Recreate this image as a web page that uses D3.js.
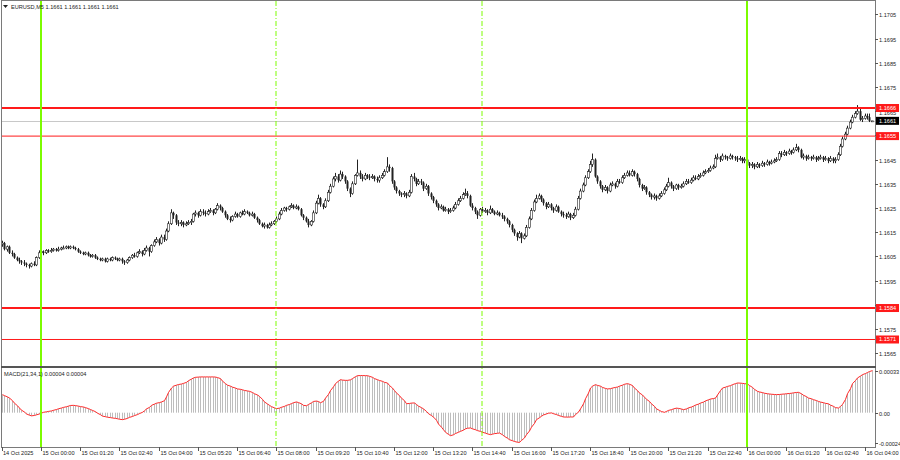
<!DOCTYPE html>
<html><head><meta charset="utf-8">
<script src="https://cdn.jsdelivr.net/npm/d3@7/dist/d3.min.js"></script>
<style>
html,body{margin:0;padding:0;background:#fff;}
svg{display:block;font-family:"Liberation Sans",Arial,sans-serif;}
</style></head><body>
<svg id="c" width="900" height="460"></svg>
<script>
// ---------------- DATA ----------------
const symbolTitle = "EURUSD,M5";
const headerValues = ["1.1661", "1.1661", "1.1661", "1.1661"];
const macdTitle = "MACD(21,34,1) 0.00004 0.00004";
const firstBarTime = "2025-10-14 22:40";
const barMinutes = 5;
const firstOpen = 1.16100;

const closes = [
1.16105,1.16080,1.16090,1.16065,1.16060,1.16045,1.16035,1.16030,1.16025,1.16020,
1.16015,1.16010,1.16020,1.16015,1.16045,1.16065,1.16070,1.16065,1.16075,1.16070,
1.16075,1.16080,1.16075,1.16080,1.16085,1.16085,1.16090,1.16085,1.16090,1.16085,
1.16080,1.16070,1.16065,1.16060,1.16065,1.16055,1.16050,1.16055,1.16045,1.16040,
1.16035,1.16040,1.16030,1.16040,1.16035,1.16045,1.16040,1.16035,1.16040,1.16030,
1.16025,1.16035,1.16045,1.16055,1.16050,1.16065,1.16070,1.16060,1.16075,1.16085,
1.16070,1.16095,1.16110,1.16120,1.16105,1.16130,1.16120,1.16155,1.16185,1.16230,
1.16220,1.16190,1.16185,1.16190,1.16180,1.16185,1.16190,1.16195,1.16225,1.16230,
1.16220,1.16235,1.16230,1.16225,1.16235,1.16240,1.16230,1.16245,1.16260,1.16250,
1.16235,1.16220,1.16205,1.16200,1.16215,1.16225,1.16215,1.16230,1.16225,1.16235,
1.16230,1.16220,1.16225,1.16210,1.16200,1.16185,1.16175,1.16180,1.16170,1.16180,
1.16185,1.16195,1.16205,1.16225,1.16240,1.16250,1.16245,1.16255,1.16260,1.16250,
1.16255,1.16245,1.16220,1.16210,1.16195,1.16180,1.16195,1.16230,1.16270,1.16290,
1.16265,1.16255,1.16280,1.16315,1.16340,1.16370,1.16380,1.16365,1.16390,1.16380,
1.16360,1.16330,1.16310,1.16350,1.16385,1.16395,1.16380,1.16370,1.16385,1.16380,
1.16375,1.16380,1.16370,1.16365,1.16375,1.16385,1.16400,1.16420,1.16415,1.16360,
1.16335,1.16320,1.16310,1.16305,1.16310,1.16300,1.16315,1.16380,1.16370,1.16350,
1.16360,1.16355,1.16330,1.16340,1.16310,1.16295,1.16280,1.16265,1.16250,1.16255,
1.16240,1.16245,1.16235,1.16240,1.16250,1.16265,1.16280,1.16290,1.16305,1.16310,
1.16300,1.16260,1.16250,1.16235,1.16220,1.16245,1.16235,1.16240,1.16230,1.16245,
1.16235,1.16225,1.16230,1.16220,1.16215,1.16205,1.16195,1.16180,1.16160,1.16145,
1.16130,1.16145,1.16125,1.16135,1.16170,1.16205,1.16240,1.16275,1.16290,1.16300,
1.16285,1.16270,1.16255,1.16265,1.16250,1.16240,1.16255,1.16235,1.16225,1.16220,
1.16215,1.16225,1.16210,1.16220,1.16245,1.16290,1.16320,1.16345,1.16375,1.16400,
1.16430,1.16450,1.16380,1.16360,1.16340,1.16325,1.16335,1.16320,1.16345,1.16350,
1.16340,1.16360,1.16355,1.16375,1.16385,1.16395,1.16385,1.16400,1.16390,1.16370,
1.16345,1.16330,1.16335,1.16315,1.16305,1.16295,1.16300,1.16290,1.16300,1.16310,
1.16325,1.16340,1.16355,1.16340,1.16330,1.16345,1.16335,1.16340,1.16350,1.16360,
1.16355,1.16365,1.16375,1.16370,1.16380,1.16385,1.16395,1.16400,1.16405,1.16415,
1.16420,1.16455,1.16460,1.16450,1.16465,1.16460,1.16455,1.16465,1.16460,1.16455,
1.16450,1.16455,1.16445,1.16450,1.16435,1.16425,1.16430,1.16420,1.16430,1.16425,
1.16435,1.16430,1.16440,1.16435,1.16440,1.16445,1.16450,1.16475,1.16470,1.16480,
1.16475,1.16485,1.16480,1.16490,1.16500,1.16490,1.16460,1.16465,1.16455,1.16460,
1.16455,1.16460,1.16450,1.16455,1.16460,1.16450,1.16455,1.16445,1.16455,1.16445,
1.16450,1.16470,1.16505,1.16535,1.16555,1.16580,1.16605,1.16625,1.16640,1.16650,
1.16615,1.16620,1.16630,1.16625,1.16610,1.16610
];
const highs = [
1.16115,1.16110,1.16095,1.16095,1.16075,1.16065,1.16050,1.16045,1.16035,1.16035,
1.16025,1.16020,1.16025,1.16030,1.16050,1.16075,1.16085,1.16075,1.16080,1.16080,
1.16085,1.16085,1.16085,1.16090,1.16090,1.16095,1.16095,1.16095,1.16095,1.16095,
1.16090,1.16085,1.16075,1.16070,1.16070,1.16070,1.16060,1.16060,1.16060,1.16050,
1.16045,1.16045,1.16045,1.16045,1.16045,1.16050,1.16050,1.16045,1.16045,1.16045,
1.16035,1.16040,1.16050,1.16060,1.16065,1.16070,1.16080,1.16075,1.16085,1.16095,
1.16090,1.16100,1.16120,1.16130,1.16125,1.16140,1.16140,1.16165,1.16195,1.16245,
1.16235,1.16225,1.16200,1.16200,1.16195,1.16195,1.16200,1.16205,1.16230,1.16240,
1.16235,1.16245,1.16245,1.16240,1.16245,1.16250,1.16245,1.16250,1.16270,1.16265,
1.16255,1.16240,1.16225,1.16215,1.16220,1.16235,1.16230,1.16235,1.16240,1.16245,
1.16240,1.16235,1.16235,1.16230,1.16215,1.16205,1.16190,1.16190,1.16185,1.16190,
1.16195,1.16200,1.16215,1.16235,1.16250,1.16255,1.16255,1.16260,1.16270,1.16265,
1.16265,1.16260,1.16250,1.16225,1.16215,1.16205,1.16200,1.16240,1.16280,1.16305,
1.16295,1.16270,1.16290,1.16325,1.16350,1.16380,1.16395,1.16390,1.16405,1.16400,
1.16385,1.16365,1.16335,1.16360,1.16390,1.16450,1.16405,1.16390,1.16395,1.16390,
1.16390,1.16390,1.16385,1.16380,1.16385,1.16395,1.16410,1.16460,1.16430,1.16420,
1.16365,1.16340,1.16325,1.16315,1.16320,1.16315,1.16325,1.16390,1.16395,1.16375,
1.16370,1.16370,1.16360,1.16350,1.16345,1.16315,1.16300,1.16285,1.16270,1.16265,
1.16260,1.16255,1.16250,1.16250,1.16260,1.16275,1.16290,1.16300,1.16315,1.16330,
1.16320,1.16305,1.16270,1.16255,1.16240,1.16250,1.16255,1.16250,1.16245,1.16260,
1.16250,1.16240,1.16240,1.16235,1.16230,1.16220,1.16210,1.16200,1.16185,1.16165,
1.16150,1.16155,1.16150,1.16145,1.16180,1.16215,1.16250,1.16285,1.16305,1.16310,
1.16305,1.16290,1.16275,1.16275,1.16270,1.16255,1.16265,1.16260,1.16240,1.16235,
1.16230,1.16235,1.16230,1.16230,1.16255,1.16300,1.16330,1.16355,1.16385,1.16410,
1.16445,1.16475,1.16455,1.16385,1.16365,1.16345,1.16345,1.16340,1.16355,1.16360,
1.16355,1.16370,1.16370,1.16385,1.16395,1.16405,1.16405,1.16410,1.16405,1.16395,
1.16375,1.16350,1.16345,1.16340,1.16320,1.16310,1.16310,1.16305,1.16310,1.16320,
1.16335,1.16350,1.16375,1.16360,1.16345,1.16350,1.16350,1.16350,1.16360,1.16370,
1.16370,1.16375,1.16385,1.16385,1.16390,1.16395,1.16405,1.16410,1.16415,1.16425,
1.16430,1.16470,1.16475,1.16465,1.16475,1.16470,1.16465,1.16475,1.16470,1.16465,
1.16465,1.16465,1.16460,1.16460,1.16455,1.16440,1.16440,1.16435,1.16440,1.16435,
1.16445,1.16440,1.16450,1.16445,1.16450,1.16455,1.16460,1.16485,1.16485,1.16490,
1.16485,1.16495,1.16490,1.16500,1.16515,1.16505,1.16495,1.16475,1.16470,1.16470,
1.16465,1.16470,1.16465,1.16465,1.16470,1.16465,1.16465,1.16460,1.16465,1.16460,
1.16460,1.16480,1.16515,1.16545,1.16565,1.16590,1.16615,1.16635,1.16650,1.16675,
1.16660,1.16630,1.16640,1.16640,1.16640,1.16610
];
const lows = [
1.16090,1.16075,1.16070,1.16060,1.16050,1.16040,1.16030,1.16020,1.16015,1.16010,
1.16005,1.16000,1.16005,1.16010,1.16010,1.16040,1.16055,1.16055,1.16060,1.16065,
1.16065,1.16070,1.16070,1.16070,1.16075,1.16080,1.16080,1.16080,1.16080,1.16080,
1.16075,1.16065,1.16060,1.16055,1.16055,1.16050,1.16045,1.16045,1.16040,1.16035,
1.16030,1.16030,1.16025,1.16025,1.16030,1.16030,1.16035,1.16030,1.16030,1.16020,
1.16015,1.16020,1.16030,1.16040,1.16045,1.16045,1.16060,1.16050,1.16055,1.16070,
1.16050,1.16065,1.16090,1.16105,1.16095,1.16100,1.16110,1.16115,1.16150,1.16180,
1.16205,1.16180,1.16175,1.16175,1.16170,1.16175,1.16180,1.16180,1.16190,1.16215,
1.16210,1.16215,1.16220,1.16215,1.16220,1.16230,1.16220,1.16225,1.16240,1.16240,
1.16230,1.16210,1.16200,1.16190,1.16195,1.16210,1.16210,1.16210,1.16220,1.16220,
1.16225,1.16215,1.16215,1.16205,1.16190,1.16180,1.16170,1.16165,1.16165,1.16165,
1.16175,1.16180,1.16190,1.16200,1.16220,1.16235,1.16235,1.16240,1.16250,1.16245,
1.16245,1.16240,1.16215,1.16200,1.16190,1.16170,1.16175,1.16190,1.16225,1.16265,
1.16255,1.16245,1.16250,1.16275,1.16310,1.16335,1.16360,1.16355,1.16360,1.16370,
1.16350,1.16320,1.16295,1.16305,1.16345,1.16380,1.16370,1.16360,1.16365,1.16370,
1.16365,1.16370,1.16360,1.16355,1.16355,1.16370,1.16380,1.16395,1.16400,1.16350,
1.16325,1.16310,1.16300,1.16295,1.16295,1.16290,1.16295,1.16310,1.16360,1.16340,
1.16345,1.16345,1.16320,1.16325,1.16300,1.16285,1.16270,1.16255,1.16240,1.16245,
1.16235,1.16235,1.16225,1.16230,1.16235,1.16245,1.16260,1.16275,1.16285,1.16300,
1.16290,1.16255,1.16240,1.16225,1.16205,1.16215,1.16230,1.16230,1.16220,1.16225,
1.16230,1.16220,1.16220,1.16215,1.16205,1.16195,1.16185,1.16170,1.16150,1.16135,
1.16115,1.16125,1.16105,1.16120,1.16130,1.16165,1.16200,1.16235,1.16270,1.16285,
1.16275,1.16260,1.16245,1.16250,1.16240,1.16230,1.16235,1.16230,1.16215,1.16210,
1.16205,1.16210,1.16200,1.16205,1.16215,1.16240,1.16285,1.16315,1.16340,1.16370,
1.16395,1.16420,1.16375,1.16350,1.16330,1.16315,1.16320,1.16310,1.16315,1.16340,
1.16330,1.16335,1.16350,1.16350,1.16370,1.16380,1.16380,1.16380,1.16380,1.16360,
1.16335,1.16320,1.16325,1.16305,1.16295,1.16285,1.16285,1.16280,1.16285,1.16295,
1.16305,1.16320,1.16335,1.16330,1.16320,1.16325,1.16325,1.16330,1.16335,1.16345,
1.16350,1.16350,1.16360,1.16365,1.16365,1.16375,1.16380,1.16390,1.16395,1.16400,
1.16410,1.16415,1.16450,1.16440,1.16445,1.16450,1.16445,1.16450,1.16450,1.16445,
1.16440,1.16445,1.16435,1.16435,1.16425,1.16415,1.16415,1.16410,1.16415,1.16415,
1.16420,1.16420,1.16425,1.16425,1.16430,1.16435,1.16440,1.16445,1.16460,1.16465,
1.16465,1.16470,1.16470,1.16475,1.16485,1.16480,1.16455,1.16450,1.16445,1.16450,
1.16445,1.16450,1.16440,1.16445,1.16450,1.16440,1.16445,1.16435,1.16440,1.16435,
1.16435,1.16445,1.16465,1.16500,1.16530,1.16550,1.16575,1.16600,1.16620,1.16635,
1.16610,1.16605,1.16615,1.16615,1.16605,1.16610
];
const macd = [
14.3e-5,13.5e-5,12.5e-5,11.6e-5,9.5e-5,7.5e-5,5.5e-5,3.7e-5,2.0e-5,0.5e-5,
-1.0e-5,-2.0e-5,-2.5e-5,-2.2e-5,-1.7e-5,-1.0e-5,-0.3e-5,0.3e-5,0.7e-5,1.0e-5,
1.4e-5,1.9e-5,2.5e-5,3.1e-5,3.7e-5,4.2e-5,4.7e-5,5.2e-5,5.7e-5,5.8e-5,
5.6e-5,5.2e-5,4.8e-5,4.5e-5,4.0e-5,3.2e-5,2.5e-5,1.8e-5,0.8e-5,-0.4e-5,
-1.6e-5,-2.7e-5,-3.2e-5,-3.6e-5,-3.9e-5,-4.2e-5,-4.5e-5,-4.8e-5,-5.2e-5,-5.5e-5,
-5.2e-5,-4.5e-5,-3.7e-5,-3.0e-5,-2.3e-5,-1.5e-5,-0.7e-5,0.3e-5,1.5e-5,3.0e-5,
4.2e-5,5.8e-5,6.8e-5,7.5e-5,8.0e-5,8.5e-5,9.5e-5,12.5e-5,16.0e-5,19.5e-5,
21.0e-5,21.8e-5,22.3e-5,22.7e-5,23.2e-5,24.0e-5,25.3e-5,26.6e-5,27.5e-5,28.0e-5,
28.2e-5,28.3e-5,28.3e-5,28.3e-5,28.3e-5,28.3e-5,28.3e-5,28.2e-5,27.8e-5,27.0e-5,
25.0e-5,23.0e-5,21.8e-5,21.0e-5,20.2e-5,19.5e-5,18.8e-5,18.5e-5,18.1e-5,17.6e-5,
17.2e-5,16.9e-5,16.0e-5,15.0e-5,14.0e-5,12.9e-5,10.5e-5,8.5e-5,6.9e-5,5.8e-5,
4.8e-5,3.8e-5,3.2e-5,3.6e-5,4.3e-5,5.0e-5,5.8e-5,6.5e-5,7.2e-5,7.9e-5,
8.5e-5,8.0e-5,7.0e-5,5.8e-5,5.5e-5,6.5e-5,7.8e-5,8.9e-5,9.2e-5,8.8e-5,
7.9e-5,9.0e-5,11.5e-5,14.5e-5,17.5e-5,20.5e-5,23.0e-5,25.0e-5,26.1e-5,25.8e-5,
25.6e-5,25.6e-5,26.0e-5,27.0e-5,28.5e-5,29.3e-5,29.4e-5,29.4e-5,29.3e-5,29.3e-5,
28.8e-5,28.0e-5,27.0e-5,26.1e-5,25.5e-5,24.8e-5,24.0e-5,23.5e-5,21.5e-5,19.5e-5,
17.5e-5,15.6e-5,13.5e-5,11.5e-5,9.5e-5,7.1e-5,7.3e-5,7.6e-5,7.7e-5,6.5e-5,
5.2e-5,4.0e-5,3.0e-5,1.0e-5,-0.8e-5,-2.3e-5,-3.5e-5,-6.0e-5,-9.0e-5,-11.5e-5,
-13.5e-5,-15.5e-5,-17.2e-5,-18.2e-5,-17.5e-5,-16.5e-5,-15.5e-5,-14.8e-5,-13.8e-5,-12.8e-5,
-12.3e-5,-12.1e-5,-12.8e-5,-13.5e-5,-14.2e-5,-14.8e-5,-15.5e-5,-16.2e-5,-16.8e-5,-17.4e-5,
-17.0e-5,-16.6e-5,-16.3e-5,-16.1e-5,-17.5e-5,-18.8e-5,-20.2e-5,-21.4e-5,-22.2e-5,-22.8e-5,
-23.4e-5,-23.5e-5,-22.0e-5,-20.0e-5,-17.4e-5,-14.5e-5,-11.5e-5,-8.5e-5,-5.5e-5,-4.0e-5,
-2.8e-5,-1.8e-5,-1.0e-5,-0.4e-5,-0.2e-5,-0.8e-5,-1.5e-5,-2.2e-5,-2.9e-5,-3.4e-5,
-3.5e-5,-3.5e-5,-3.4e-5,-3.4e-5,-1.5e-5,0.5e-5,3.0e-5,7.0e-5,11.0e-5,15.5e-5,
19.5e-5,21.0e-5,22.2e-5,21.6e-5,21.0e-5,20.0e-5,19.2e-5,18.8e-5,19.0e-5,19.5e-5,
20.0e-5,20.3e-5,21.0e-5,21.8e-5,22.5e-5,23.0e-5,22.5e-5,21.5e-5,19.5e-5,17.5e-5,
15.6e-5,14.0e-5,12.3e-5,10.6e-5,8.9e-5,7.0e-5,5.0e-5,3.0e-5,1.8e-5,0.9e-5,
0.3e-5,1.0e-5,1.8e-5,2.4e-5,3.0e-5,3.6e-5,3.4e-5,2.9e-5,2.4e-5,3.0e-5,
3.8e-5,4.5e-5,5.2e-5,6.0e-5,6.8e-5,7.6e-5,8.4e-5,9.3e-5,10.2e-5,10.8e-5,
11.2e-5,11.6e-5,14.0e-5,17.5e-5,19.5e-5,20.2e-5,20.8e-5,21.4e-5,22.2e-5,23.0e-5,
23.5e-5,23.4e-5,23.2e-5,23.0e-5,22.7e-5,21.5e-5,20.0e-5,18.5e-5,16.9e-5,16.4e-5,
15.9e-5,15.4e-5,15.0e-5,14.8e-5,14.6e-5,14.4e-5,14.3e-5,14.4e-5,14.6e-5,14.8e-5,
15.0e-5,15.2e-5,15.4e-5,15.7e-5,16.0e-5,16.1e-5,15.0e-5,13.8e-5,12.7e-5,11.6e-5,
11.0e-5,10.3e-5,9.6e-5,8.9e-5,8.4e-5,7.9e-5,7.4e-5,7.0e-5,6.0e-5,5.0e-5,
4.0e-5,3.7e-5,5.0e-5,6.5e-5,10.5e-5,15.0e-5,19.0e-5,23.0e-5,25.5e-5,27.5e-5,
29.0e-5,30.1e-5,31.0e-5,31.8e-5,32.6e-5,33.3e-5
];
const priceTicks = [1.1705,1.1695,1.1685,1.1675,1.1665,1.1655,1.1645,1.1635,1.1625,1.1615,1.1605,1.1595,1.1585,1.1575,1.1565];
const macdTicks = [0.00033, 0, -0.00024];
const macdTickLabels = ["0.00033", "0.00", "-0.00024"];
const firstDateLabel = "14 Oct 2025";
const timeLabels = ["15 Oct 00:00","15 Oct 01:20","15 Oct 02:40","15 Oct 04:00","15 Oct 05:20","15 Oct 06:40",
"15 Oct 08:00","15 Oct 09:20","15 Oct 10:40","15 Oct 12:00","15 Oct 13:20","15 Oct 14:40","15 Oct 16:00",
"15 Oct 17:20","15 Oct 18:40","15 Oct 20:00","15 Oct 21:20","15 Oct 22:40","16 Oct 00:00","16 Oct 01:20",
"16 Oct 02:40","16 Oct 04:00"];
const levels = [1.16663, 1.16547, 1.15837, 1.15707];
const levelLabels = ["1.1666", "1.1655", "1.1584", "1.1571"];
const bidPrice = 1.1661;
const bidLabel = "1.1661";
const vLineTimes = ["15 Oct 00:00", "15 Oct 08:00", "15 Oct 15:00", "16 Oct 00:00"];

// ---------------- STYLE / LAYOUT ----------------
const W = 900, H = 460;
const L = 1, R = 875, MT = 1, MB = 366, ST = 368, SB = 447;
const levelStroke = [2, 1, 2, 1];
const vLineDash = [null, "5,2,1,2", "5,2,1,2", null];
const vLineWidth = [2, 1, 1, 2];
const FS = 5.6;

const parseBar = d3.timeParse("%Y-%m-%d %H:%M");
const parseLbl = d3.timeParse("%Y %d %b %H:%M");
const t0 = parseBar(firstBarTime);
const N = closes.length;
const barTime = i => d3.timeMinute.offset(t0, barMinutes * i);
const opens = closes.map((c, i) => i === 0 ? firstOpen : closes[i - 1]);

const x = d3.scaleTime().domain([t0, barTime(N - 1)]).range([1.8, 1.8 + (N - 1) * 2.451]);
const y = d3.scaleLinear().domain([1.1565, 1.1705]).range([353.3, 14.3]);
const ym = d3.scaleLinear().domain([-0.00024, 0.00033]).range([443, 371]);
const px = i => Math.round(x(barTime(i))) + 0.5;

const svg = d3.select("#c");
svg.append("rect").attr("width", W).attr("height", H).attr("fill", "#fff");

const main = svg.append("g");
// bid line
main.append("line").attr("x1", L).attr("x2", R).attr("y1", Math.round(y(bidPrice)) + 0.5).attr("y2", Math.round(y(bidPrice)) + 0.5)
  .attr("stroke", "#c8c8c8").attr("stroke-width", 1);

// candles
const cg = main.append("g");
d3.range(N).forEach(i => {
  const xx = px(i);
  cg.append("line").attr("x1", xx).attr("x2", xx)
    .attr("y1", y(highs[i])).attr("y2", y(lows[i]))
    .attr("stroke", "#222").attr("stroke-width", 1);
  const o = opens[i], c = closes[i];
  const top = y(Math.max(o, c)), bot = y(Math.min(o, c));
  const h = Math.max(1, bot - top);
  if (c >= o) {
    cg.append("rect").attr("x", xx - 1).attr("y", top).attr("width", 2).attr("height", h)
      .attr("fill", "#fff").attr("stroke", "#222").attr("stroke-width", 0.6);
  } else {
    cg.append("rect").attr("x", xx - 1).attr("y", top).attr("width", 2).attr("height", h)
      .attr("fill", "#222");
  }
});

// horizontal levels
levels.forEach((lv, k) => {
  const yy = y(lv);
  main.append("line").attr("x1", L).attr("x2", R).attr("y1", yy).attr("y2", yy)
    .attr("stroke", "#ff1a1a").attr("stroke-width", levelStroke[k]);
});

// MACD panel
const mg = svg.append("g");
d3.range(N).forEach(i => {
  mg.append("line").attr("x1", px(i)).attr("x2", px(i))
    .attr("y1", ym(0)).attr("y2", ym(macd[i]))
    .attr("stroke", "#bdbdbd").attr("stroke-width", 1);
});
mg.append("path").datum(macd)
  .attr("d", d3.line().x((d, i) => px(i)).y(d => ym(d)))
  .attr("fill", "none").attr("stroke", "#ff2a2a").attr("stroke-width", 1);

// vertical lines
vLineTimes.forEach((t, k) => {
  const xx = Math.round(x(parseLbl("2025 " + t)));
  svg.append("line").attr("x1", xx).attr("x2", xx).attr("y1", MT).attr("y2", SB)
    .attr("stroke", "#7cfc00").attr("stroke-width", vLineWidth[k])
    .attr("stroke-dasharray", vLineDash[k]);
});

// frame
const frame = svg.append("g").attr("fill", "none").attr("stroke", "#7a7a7a");
frame.append("line").attr("x1", L + 0.5).attr("x2", L + 0.5).attr("y1", 0).attr("y2", SB + 1);
frame.append("line").attr("x1", R + 0.5).attr("x2", R + 0.5).attr("y1", 0).attr("y2", SB + 1);
frame.append("line").attr("x1", L).attr("x2", R + 1).attr("y1", 0.5).attr("y2", 0.5);
frame.append("line").attr("x1", L).attr("x2", R + 1).attr("y1", SB + 0.5).attr("y2", SB + 0.5);
svg.append("rect").attr("x", L).attr("y", MB).attr("width", R - L + 1).attr("height", 2).attr("fill", "#555");

// price axis (labels hidden behind a level box are only marked with a tick)
const boxYs = levels.map(lv => y(lv)).concat([y(bidPrice)]);
const ax = svg.append("g").attr("font-size", FS).attr("fill", "#222");
priceTicks.forEach(p => {
  const yy = Math.round(y(p)) + 0.5;
  ax.append("line").attr("x1", R).attr("x2", R + 3).attr("y1", yy).attr("y2", yy).attr("stroke", "#555");
  const hidden = boxYs.some(b => Math.abs(b - yy) < 3);
  if (!hidden) {
    const nearest = boxYs.reduce((m, b) => Math.abs(b - yy) < Math.abs(m - yy) ? b : m, -999);
    const shift = Math.abs(nearest - yy) < 8 ? (yy > nearest ? 1.5 : -1.5) : 0;
    ax.append("text").attr("x", R + 4).attr("y", yy + 2 + shift).text(d3.format(".4f")(p));
  }
});
macdTicks.forEach((v, k) => {
  const yy = Math.round(ym(v)) + 0.5;
  ax.append("line").attr("x1", R).attr("x2", R + 3).attr("y1", yy).attr("y2", yy).attr("stroke", "#555");
  ax.append("text").attr("x", R + 4).attr("y", yy + 2).text(macdTickLabels[k]);
});
// level boxes
const boxes = svg.append("g").attr("font-size", FS);
levels.forEach((lv, k) => {
  const yy = y(lv);
  boxes.append("rect").attr("x", R + 1).attr("y", yy - 4).attr("width", 23).attr("height", 8).attr("fill", "#ff1a1a");
  boxes.append("text").attr("x", R + 4).attr("y", yy + 2).attr("fill", "#fff").text(levelLabels[k]);
});
{
  const yy = y(bidPrice);
  boxes.append("rect").attr("x", R + 1).attr("y", yy - 4).attr("width", 23).attr("height", 8).attr("fill", "#000");
  boxes.append("text").attr("x", R + 4).attr("y", yy + 2).attr("fill", "#fff").text(bidLabel);
}

// time axis
const tx = svg.append("g").attr("font-size", FS).attr("fill", "#222");
tx.append("line").attr("x1", 2.5).attr("x2", 2.5).attr("y1", SB).attr("y2", SB + 4).attr("stroke", "#555");
tx.append("text").attr("x", 3).attr("y", 455).text(firstDateLabel);
timeLabels.forEach(t => {
  const xx = Math.round(x(parseLbl("2025 " + t))) + 0.5;
  tx.append("line").attr("x1", xx).attr("x2", xx).attr("y1", SB).attr("y2", SB + 4).attr("stroke", "#555");
  tx.append("text").attr("x", xx + 1).attr("y", 455).text(t);
});

// titles
svg.append("path").attr("d", "M3,5 L8,5 L5.5,8 Z").attr("fill", "#222");
svg.append("text").attr("x", 11).attr("y", 9).attr("font-size", FS).attr("fill", "#222")
  .text(symbolTitle + "  " + headerValues.join(" "));
svg.append("text").attr("x", 4).attr("y", 376).attr("font-size", FS).attr("fill", "#222").text(macdTitle);
</script>
</body></html>
